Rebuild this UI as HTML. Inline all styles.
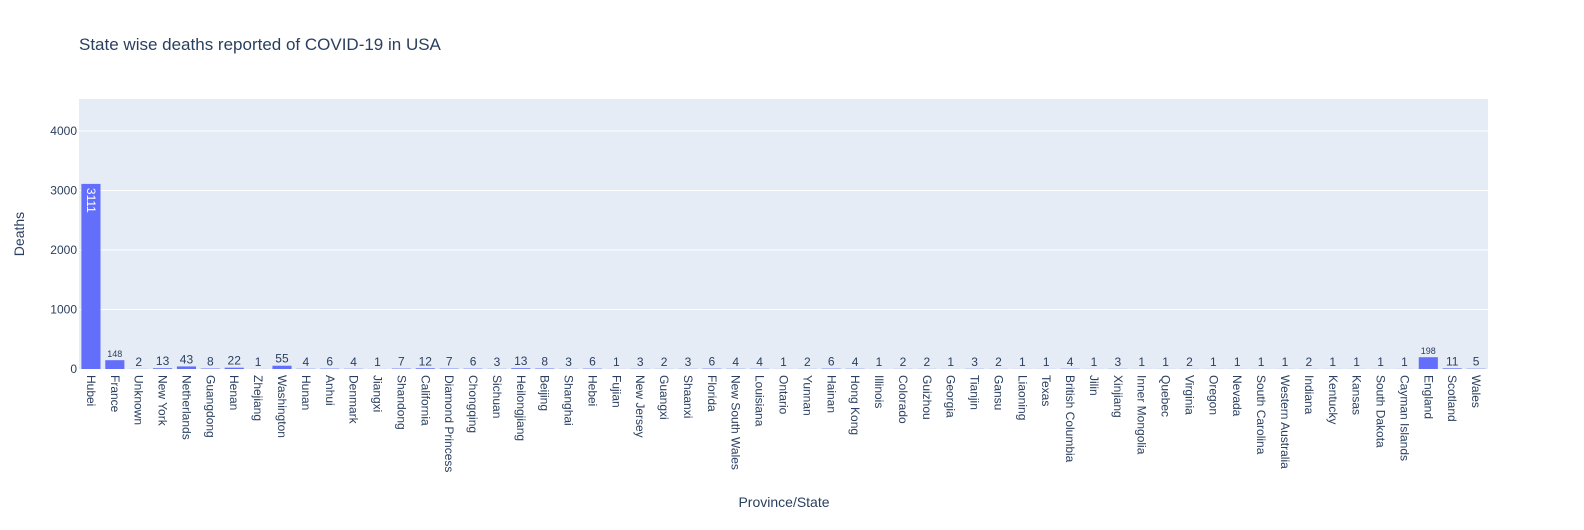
<!DOCTYPE html>
<html><head><meta charset="utf-8"><style>
body{margin:0;background:#fff;font-family:"Liberation Sans",Arial,sans-serif}
svg text{font-family:"Liberation Sans",Arial,sans-serif}
</style></head><body>
<svg id="chart" width="1584" height="525">
<rect width="1584" height="525" fill="#fff"/>
<text x="79" y="50" font-size="17" fill="#2a3f5f">State wise deaths reported of COVID-19 in USA</text>
<rect x="79" y="99" width="1409" height="270" fill="#e5ecf6"/>
<g id="grid"></g><g id="bars"></g><g id="labels"></g><g id="ticks"></g>
<text x="24" y="234" font-size="14" fill="#2a3f5f" text-anchor="middle" transform="rotate(-90 24 234)">Deaths</text>
<text x="784" y="507" font-size="14" fill="#2a3f5f" text-anchor="middle">Province/State</text>
</svg>
<script>
const categories=["Hubei","France","Unknown","New York","Netherlands","Guangdong","Henan","Zhejiang","Washington","Hunan","Anhui","Denmark","Jiangxi","Shandong","California","Diamond Princess","Chongqing","Sichuan","Heilongjiang","Beijing","Shanghai","Hebei","Fujian","New Jersey","Guangxi","Shaanxi","Florida","New South Wales","Louisiana","Ontario","Yunnan","Hainan","Hong Kong","Illinois","Colorado","Guizhou","Georgia","Tianjin","Gansu","Liaoning","Texas","British Columbia","Jilin","Xinjiang","Inner Mongolia","Quebec","Virginia","Oregon","Nevada","South Carolina","Western Australia","Indiana","Kentucky","Kansas","South Dakota","Cayman Islands","England","Scotland","Wales"];
const deaths=[3111,148,2,13,43,8,22,1,55,4,6,4,1,7,12,7,6,3,13,8,3,6,1,3,2,3,6,4,4,1,2,6,4,1,2,2,1,3,2,1,1,4,1,3,1,1,2,1,1,1,1,2,1,1,1,1,198,11,5];
const yTicks=[0,1000,2000,3000,4000];
const NS="http://www.w3.org/2000/svg";
const X0=79,X1=1488,Y0=369,Y1=99,YMAX=4538;
const step=(X1-X0)/categories.length,bw=step*0.8;
const y=v=>Y0-(v/YMAX)*(Y0-Y1);
const xc=i=>X0+step*(i+0.5);
function mk(t,a,parent){const e=document.createElementNS(NS,t);for(const k in a)e.setAttribute(k,a[k]);document.getElementById(parent).appendChild(e);return e;}
yTicks.forEach(t=>{
  if(t>0){const l=mk("line",{x1:X0,x2:X1,y1:y(t),y2:y(t),stroke:"#fff","stroke-width":1},"grid");
  
  }
  const tx=mk("text",{x:X0-2,y:y(t)+4,"font-size":12,fill:"#2a3f5f","text-anchor":"end"},"grid");
  tx.textContent=t;
  
  
});
categories.forEach((c,i)=>{
  const v=deaths[i],cx=xc(i),top=y(v);
  const r=mk("rect",{x:cx-bw/2,y:top,width:bw,height:Math.max(0,Y0-top),fill:"#636efa"},"bars");
  
  
  const s=String(v);
  const w12=s.length*6.7;
  let t;
  if(Y0-top>w12+8){
    t=mk("text",{x:cx,y:top+4,"font-size":12,fill:"#fff","text-anchor":"start",transform:`rotate(90 ${cx} ${top+4}) translate(0 4)`},"labels");
  }else{
    const fs=w12>bw?9:12;
    t=mk("text",{x:cx,y:top-3,"font-size":fs,fill:"#2a3f5f","text-anchor":"middle"},"labels");
  }
  t.textContent=s;
  
  
  const tl=mk("text",{x:cx-4,y:375,"font-size":12,fill:"#2a3f5f",transform:`rotate(90 ${cx-4} 375)`},"ticks");
  tl.textContent=c;
  
  
});
</script>
</body></html>
